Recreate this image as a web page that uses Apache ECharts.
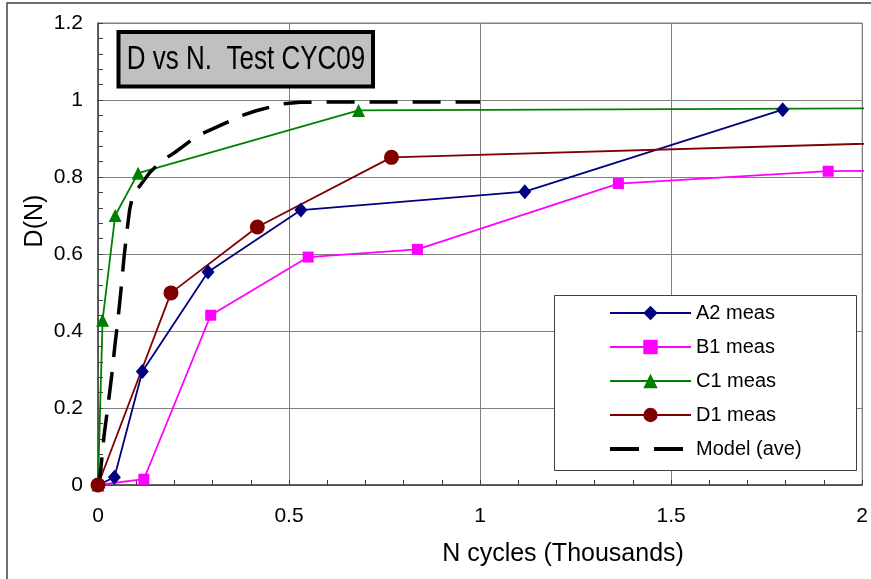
<!DOCTYPE html>
<html><head><meta charset="utf-8">
<script src="https://cdn.jsdelivr.net/npm/echarts@6/dist/echarts.min.js"></script>
<style>html,body{margin:0;padding:0;background:#fff}#c{width:871px;height:579px}</style>
</head><body><div id="c"></div>
<script>
const titleText = 'D vs N.  Test CYC09';
const xAxisName = 'N cycles (Thousands)';
const yAxisName = 'D(N)';
const seriesNames = ['A2 meas', 'B1 meas', 'C1 meas', 'D1 meas', 'Model (ave)'];

const a2N = [0, 0.043, 0.116, 0.288, 0.531, 1.117, 1.792];
const a2D = [0, 0.020, 0.295, 0.553, 0.714, 0.762, 0.975];

const b1N = [0, 0.120, 0.295, 0.550, 0.836, 1.362, 1.911, 2.2];
const b1D = [0, 0.015, 0.441, 0.592, 0.612, 0.783, 0.815, 0.818];

const c1N = [0, 0.012, 0.045, 0.105, 0.682, 2.2];
const c1D = [0, 0.428, 0.700, 0.810, 0.973, 0.979];

const d1N = [0, 0.191, 0.417, 0.768, 2.2];
const d1D = [0, 0.499, 0.670, 0.851, 0.892];

const modelN = [0, 0.005, 0.016, 0.026, 0.036, 0.044, 0.052, 0.060, 0.068, 0.076, 0.083, 0.091, 0.135, 0.167, 0.200, 0.260, 0.300, 0.375, 0.414, 0.482, 0.530, 0.600, 0.700, 0.800, 0.900, 1.000];
const modelD = [0, 0.018, 0.130, 0.205, 0.285, 0.360, 0.428, 0.505, 0.590, 0.662, 0.716, 0.752, 0.811, 0.842, 0.863, 0.907, 0.925, 0.959, 0.972, 0.990, 0.994, 0.995, 0.995, 0.995, 0.995, 0.995];

const FONT = 'Liberation Sans, Arial, sans-serif';
const pairs = (xs, ys) => xs.map((x, i) => [x, ys[i]]);

function mkSeries(name, xs, ys, color, symbol, size, extra) {
  return Object.assign({
    name: name, type: 'line', data: pairs(xs, ys),
    symbol: symbol, symbolSize: size, clip: false,
    lineStyle: { color: color, width: 1.8 },
    itemStyle: { color: color, borderWidth: 0 },
    emphasis: { disabled: true }, animation: false
  }, extra || {});
}

const chart = echarts.init(document.getElementById('c'), null, { renderer: 'canvas' });
const axisCommon = {
  type: 'value',
  axisLine: { show: true, lineStyle: { color: '#404040', width: 1.5 } },
  axisTick: { show: true, inside: true, length: 5, lineStyle: { color: '#404040' } },
  minorTick: { show: true, splitNumber: 5, length: 5, lineStyle: { color: '#404040' } },
  splitLine: { show: true, lineStyle: { color: '#808080', width: 1 } },
  minorSplitLine: { show: false }
};
const legendData = seriesNames.map((n, i) => i === 4
  ? { name: n, itemStyle: { opacity: 0 }, lineStyle: { width: 4, type: [29, 15], color: '#000' } }
  : { name: n });
chart.setOption({
  backgroundColor: '#fff',
  animation: false,
  grid: { left: 98, right: 6, top: 23, bottom: 94, show: true, borderColor: '#808080', borderWidth: 1 },
  xAxis: Object.assign({}, axisCommon, {
    min: 0, max: 2, interval: 0.5,
    axisLabel: { fontSize: 21, color: '#000', margin: 21, fontFamily: FONT }
  }),
  yAxis: Object.assign({}, axisCommon, {
    min: 0, max: 1.2, interval: 0.2,
    axisLabel: { fontSize: 21, color: '#000', margin: 15, fontFamily: FONT }
  }),
  legend: {
    data: legendData, orient: 'vertical', left: 608, top: 303, padding: 0,
    itemWidth: 81, itemHeight: 18, itemGap: 14, z: 20,
    selectedMode: false,
    textStyle: { fontSize: 20, lineHeight: 20, color: '#000', fontFamily: FONT }
  },
  series: [
    mkSeries(seriesNames[0], a2N, a2D, '#000080', 'diamond', [13, 15]),
    mkSeries(seriesNames[1], b1N, b1D, '#FF00FF', 'rect', 11),
    mkSeries(seriesNames[2], c1N, c1D, '#008000', 'triangle', 13),
    mkSeries(seriesNames[3], d1N, d1D, '#800000', 'circle', 15),
    mkSeries(seriesNames[4], modelN, modelD, '#000000', 'none', 0, {
      lineStyle: { color: '#000', width: 3.5, type: [28, 15] }
    })
  ],
  graphic: [
    { type: 'rect', silent: true, z: 1, shape: { x: 7, y: 3, width: 900, height: 640 },
      style: { fill: 'none', stroke: '#404040', lineWidth: 1.5 } },
    { type: 'rect', silent: true, z: 10, shape: { x: 554.5, y: 295.5, width: 302, height: 175 },
      style: { fill: '#fff', stroke: '#404040', lineWidth: 1 } },
    { type: 'rect', silent: true, z: 10, shape: { x: 118.5, y: 32, width: 254.5, height: 54.5 },
      style: { fill: '#c0c0c0', stroke: '#000', lineWidth: 4 } },
    { type: 'text', silent: true, z: 11, x: 246, y: 60, scaleY: 1.3,
      style: { text: titleText, fontSize: 26, fontFamily: FONT, fill: '#000',
        align: 'center', verticalAlign: 'middle', textAlign: 'center', textVerticalAlign: 'middle' } },
    { type: 'text', silent: true, z: 11, x: 563, y: 554,
      style: { text: xAxisName, fontSize: 25, fontFamily: FONT, fill: '#000',
        align: 'center', verticalAlign: 'middle', textAlign: 'center', textVerticalAlign: 'middle' } },
    { type: 'text', silent: true, z: 11, x: 35, y: 221, rotation: Math.PI / 2,
      style: { text: yAxisName, fontSize: 25, fontFamily: FONT, fill: '#000',
        align: 'center', verticalAlign: 'middle', textAlign: 'center', textVerticalAlign: 'middle' } }
  ]
});
</script></body></html>
